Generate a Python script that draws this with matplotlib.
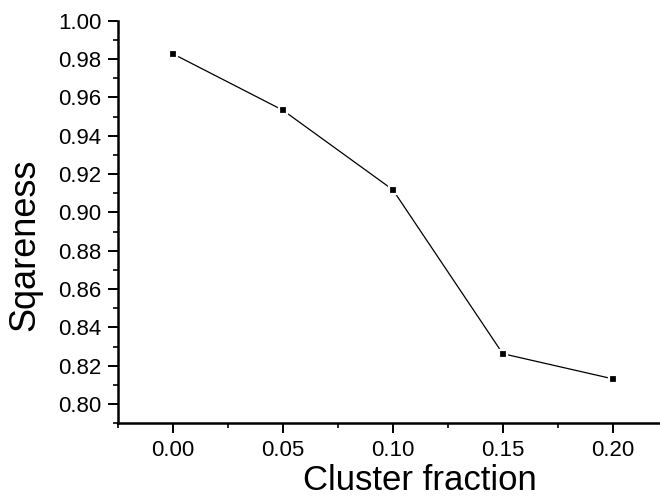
import matplotlib
matplotlib.use("Agg")
import matplotlib.pyplot as plt
from matplotlib.ticker import MultipleLocator, FormatStrFormatter

plt.rcParams['font.family'] = ['Liberation Sans', 'DejaVu Sans']

cluster_fraction = [0.00, 0.05, 0.10, 0.15, 0.20]
squareness = [0.9827, 0.9533, 0.9118, 0.8263, 0.8132]

fig = plt.figure(figsize=(6.6, 4.98), dpi=100)
ax = fig.add_axes([118/660, (498-423.3)/498, (660-118)/660, (423.3-20.7)/498])

ax.plot(cluster_fraction, squareness, color='black', linewidth=0.9,
        marker='s', markersize=6.2, markerfacecolor='black',
        markeredgecolor='white', markeredgewidth=1.6, zorder=3)

ax.set_xlim(-0.025, 0.2215)
ax.set_ylim(0.79, 1.00)

ax.xaxis.set_major_locator(MultipleLocator(0.05))
ax.xaxis.set_minor_locator(MultipleLocator(0.025))
ax.yaxis.set_major_locator(MultipleLocator(0.02))
ax.yaxis.set_minor_locator(MultipleLocator(0.01))
ax.xaxis.set_major_formatter(FormatStrFormatter('%.2f'))
ax.yaxis.set_major_formatter(FormatStrFormatter('%.2f'))

for s in ['top', 'right']:
    ax.spines[s].set_visible(False)
for s in ['left', 'bottom']:
    ax.spines[s].set_linewidth(1.8)
    ax.spines[s].set_clip_on(False)

ax.tick_params(axis='both', which='major', direction='out', length=7, width=1.4,
               labelsize=16, pad=5)
ax.tick_params(axis='both', which='minor', direction='out', length=3.5, width=1.2)

ax.set_xlabel('Cluster fraction', fontsize=25)
ax.set_ylabel('Sqareness', fontsize=26)
ax.xaxis.set_label_coords(0.557, -0.102)
ax.yaxis.set_label_coords(-0.139, 0.443)

fig.savefig('out.png', dpi=100)
